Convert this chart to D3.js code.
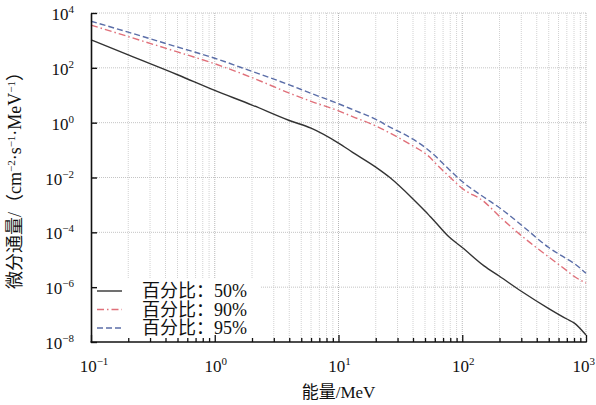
<!DOCTYPE html>
<html>
<head>
<meta charset="utf-8">
<script src="https://cdn.jsdelivr.net/npm/d3@7"></script>
<style>
  body { margin: 0; background: #fff; }
</style>
</head>
<body>
<svg id="chart" width="596" height="405"></svg>
<script>
// Energy grid (MeV)
const energy = [0.1, 0.2, 0.5, 1, 2, 4, 6, 10, 13, 20, 26, 40, 50, 55, 60, 78, 100, 150, 200, 300, 500, 700, 800, 1000];
// Differential flux (cm^-2 s^-1 MeV^-1) per percentile
const flux50 = [1.05e3, 2.95e2, 56, 15, 4.4, 1.2, 0.63, 0.18, 0.083, 0.024, 1.0e-2, 1.66e-3, 6.0e-4, 3.8e-4, 2.5e-4, 6.9e-5, 2.8e-5, 6.0e-6, 2.5e-6, 7.1e-7, 1.66e-7, 6.9e-8, 5.0e-8, 1.8e-8];
const flux90 = [3.63e3, 1.38e3, 380, 141, 44, 12, 6.0, 2.7, 1.66, 0.76, 0.42, 0.141, 0.076, 0.054, 0.035, 0.0112, 4.0e-3, 1.32e-3, 3.8e-4, 7.6e-5, 1.26e-5, 4.0e-6, 2.5e-6, 1.41e-6];
const flux95 = [5.0e3, 2.0e3, 575, 224, 74, 24, 11.7, 4.9, 3.0, 1.32, 0.69, 0.25, 0.126, 0.089, 0.063, 0.020, 7.1e-3, 1.9e-3, 7.9e-4, 1.86e-4, 2.8e-5, 1.07e-5, 7.4e-6, 3.2e-6];
const seriesLabels = ["百分比：50%", "百分比：90%", "百分比：95%"];
// Tick exponents (powers of ten)
const xTickExps = [-1, 0, 1, 2, 3];
const yTickExps = [4, 2, 0, -2, -4, -6, -8];

const FONT = "'Liberation Serif', 'Times New Roman', 'Noto Sans CJK SC', serif";

const svg = d3.select("#chart");
const x = d3.scaleLog().domain([0.1, 1000]).range([91, 586]);
const y = d3.scaleLog().domain([1e-8, 1e4]).range([342, 13]);

const isDecade = d => Math.abs(Math.log10(d) - Math.round(Math.log10(d))) < 1e-9;

function styledText(parent, size) {
  return parent.append("text")
    .style("font-family", FONT)
    .attr("font-size", size)
    .attr("fill", "#111");
}

// Grid
const grid = svg.append("g");
grid.selectAll("line.vx")
  .data(x.ticks().filter(d => d > 0.1 + 1e-12))
  .join("line")
  .attr("x1", d => x(d)).attr("x2", d => x(d))
  .attr("y1", y(1e4)).attr("y2", y(1e-8))
  .attr("stroke", d => isDecade(d) ? "#b8b8b8" : "#d2d2d2")
  .attr("stroke-width", 1)
  .attr("stroke-dasharray", "1,1");
grid.selectAll("line.hy")
  .data(yTickExps.map(e => Math.pow(10, e)).filter(d => d > 1e-8))
  .join("line")
  .attr("x1", x(0.1)).attr("x2", x(1000))
  .attr("y1", d => y(d)).attr("y2", d => y(d))
  .attr("stroke", "#c4c4c4")
  .attr("stroke-width", 1)
  .attr("stroke-dasharray", "1,1");

// Series lines
const series = [
  { values: flux50, color: "#333333", dash: null, width: 1.4 },
  { values: flux90, color: "#e0707a", dash: "7,3,1.5,3", width: 1.4 },
  { values: flux95, color: "#5b6ea8", dash: "6,3", width: 1.4 }
];
const line = d3.line().x(d => x(d[0])).y(d => y(d[1])).curve(d3.curveMonotoneX);
series.forEach(s => {
  svg.append("path")
    .datum(energy.map((e, i) => [e, s.values[i]]))
    .attr("d", line)
    .attr("fill", "none")
    .attr("stroke", s.color)
    .attr("stroke-width", s.width)
    .attr("stroke-dasharray", s.dash);
});

// Legend
const lg = svg.append("g");
lg.append("rect").attr("x", 92).attr("y", 279).attr("width", 168).attr("height", 62).attr("fill", "#fff");
series.forEach((s, i) => {
  const cy = 291 + i * 18.5;
  lg.append("line")
    .attr("x1", 97).attr("x2", 122).attr("y1", cy).attr("y2", cy)
    .attr("stroke", s.color).attr("stroke-width", 1.4)
    .attr("stroke-dasharray", s.dash);
  styledText(lg, 18)
    .attr("x", 142).attr("y", cy + 6)
    .text(seriesLabels[i]);
});

// Power-of-ten label helper
function powLabel(sel, exp) {
  sel.text(null);
  sel.append("tspan").text("10");
  sel.append("tspan").attr("dy", -7).attr("font-size", 11)
    .text(exp < 0 ? "\u2212" + Math.abs(exp) : String(exp));
}

// Bottom axis
const xAxis = d3.axisBottom(x)
  .tickValues(x.ticks())
  .tickSizeInner(0).tickSizeOuter(0).tickFormat("");
const gx = svg.append("g").attr("transform", `translate(0,${y(1e-8)})`).call(xAxis);
gx.select(".domain").remove();
gx.selectAll(".tick line")
  .attr("y2", d => isDecade(d) ? -7 : -4)
  .attr("stroke", "#111").attr("stroke-width", 1.3);
svg.append("line")
  .attr("x1", x(0.1) - 0.5).attr("x2", x(1000) + 0.75)
  .attr("y1", y(1e-8)).attr("y2", y(1e-8))
  .attr("stroke", "#111").attr("stroke-width", 1.6);
xTickExps.forEach(e => {
  const last = e === xTickExps[xTickExps.length - 1];
  styledText(svg, 17)
    .attr("x", last ? 595 : x(Math.pow(10, e)) + (e < 0 ? 3 : 1))
    .attr("y", 372)
    .attr("text-anchor", last ? "end" : "middle")
    .call(powLabel, e);
});

// Left axis
const yAxis = d3.axisLeft(y)
  .tickValues(yTickExps.map(e => Math.pow(10, e)))
  .tickSizeInner(-6).tickSizeOuter(0).tickFormat("");
const gy = svg.append("g").attr("transform", `translate(${x(0.1)},0)`).call(yAxis);
gy.select(".domain").attr("stroke", "#111").attr("stroke-width", 1.6);
gy.selectAll(".tick line").attr("stroke", "#111").attr("stroke-width", 1.4);
yTickExps.forEach(e => {
  styledText(svg, 17)
    .attr("x", 74)
    .attr("y", y(Math.pow(10, e)) + 7)
    .attr("text-anchor", "end")
    .call(powLabel, e);
});

// Axis titles
styledText(svg, 17)
  .attr("x", 338.5).attr("y", 398)
  .attr("text-anchor", "middle")
  .text("能量/MeV");

const yt = styledText(svg, 18)
  .attr("transform", "translate(21,176) rotate(-90)")
  .attr("text-anchor", "middle");
yt.append("tspan").text("微分通量/（cm");
yt.append("tspan").attr("dy", -6).attr("font-size", 11).text("\u22122");
yt.append("tspan").attr("dy", 6).text("·s");
yt.append("tspan").attr("dy", -6).attr("font-size", 11).text("\u22121");
yt.append("tspan").attr("dy", 6).text("·MeV");
yt.append("tspan").attr("dy", -6).attr("font-size", 11).text("\u22121");
yt.append("tspan").attr("dy", 6).text("）");
</script>
</body>
</html>
